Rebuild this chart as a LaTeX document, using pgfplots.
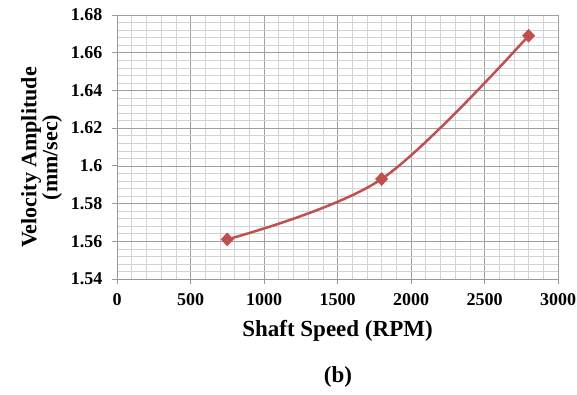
\documentclass[border=0pt]{standalone}
\usepackage{fontspec}
\setmainfont{Liberation Serif}
\usepackage{pgfplots}
\pgfplotsset{compat=1.18}
\definecolor{linered}{RGB}{192,80,77}
\begin{document}
\begin{tikzpicture}[x=1pt,y=1pt]
\path[use as bounding box] (0,0) rectangle (577,395);
\begin{axis}[
  at={(117pt,116pt)}, anchor=south west,
  scale only axis, width=441pt, height=264pt,
  xmin=0, xmax=3000, ymin=1.54, ymax=1.68,
  xtick={0,500,...,3000},
  xticklabels={0,500,1000,1500,2000,2500,3000},
  ytick={1.54,1.56,1.58,1.60,1.62,1.64,1.66,1.68},
  yticklabels={1.54,1.56,1.58,1.6,1.62,1.64,1.66,1.68},
  minor x tick num=4, minor y tick num=4,
  grid=both,
  major grid style={gray!75, line width=0.6pt},
  minor grid style={gray!35, line width=0.5pt},
  axis x line*=bottom, axis y line*=left,
  axis line style={gray!80, line width=0.8pt, -},
  tick style={gray!80, line width=0.8pt},
  major tick length=5pt, minor tick length=0pt,
  tick align=outside,
  /pgf/number format/assume math mode=true,
  ticklabel style={font=\bfseries\fontsize{18}{18}\selectfont},
  xticklabel style={yshift=-6pt},
  yticklabel style={xshift=-6pt},
  xlabel={Shaft Speed (RPM)},
  xlabel style={font=\bfseries\fontsize{23}{24}\selectfont, yshift=-8pt},
  ylabel={Velocity Amplitude\\(mm/sec)},
  ylabel style={font=\bfseries\fontsize{22}{20}\selectfont, align=center, at={(ticklabel cs:0.46)}, yshift=2pt},
  clip=false,
]
\addplot[linered, line width=2.5pt, smooth, tension=0.55,
  mark=diamond*, mark size=6.5pt, mark options={fill=linered, draw=linered, line width=0.5pt, xscale=1.25}]
  coordinates {(750,1.561) (1800,1.593) (2800,1.669)};
\end{axis}
\node[font=\bfseries\fontsize{23}{24}\selectfont] at (338,18) {(b)};
\end{tikzpicture}
\end{document}
